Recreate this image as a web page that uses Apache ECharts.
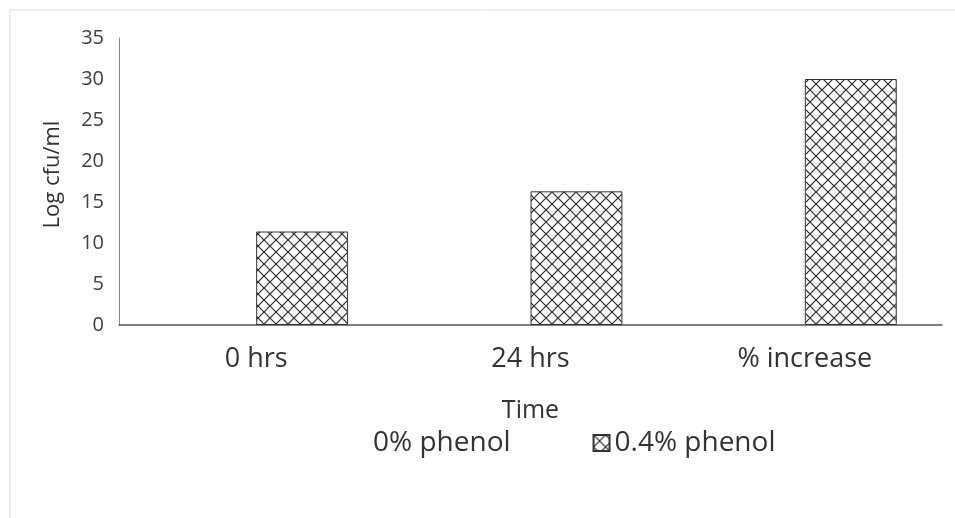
<!DOCTYPE html>
<html>
<head>
<meta charset="utf-8">
<script src="https://cdn.jsdelivr.net/npm/echarts@6/dist/echarts.min.js"></script>
<style>
  html, body { margin: 0; padding: 0; background: #fff; }
  #chart { width: 955px; height: 518px; }
</style>
</head>
<body>
<div id="chart"></div>
<script>
const categories = ['0 hrs', '24 hrs', '% increase'];
const seriesNames = ['0% phenol', '0.4% phenol'];
const phenol0 = [0, 0, 0];
const phenol04 = [11.4, 16.3, 30.0];
const yTicks = { min: 0, max: 35, interval: 5 };

// diamond crosshatch
function hatch() {
    const c = document.createElement('canvas');
    c.width = 12; c.height = 12;
    const ctx = c.getContext('2d');
    ctx.fillStyle = '#fff';
    ctx.fillRect(0, 0, 12, 12);
    ctx.strokeStyle = '#2a2a2a';
    ctx.lineWidth = 1.2;
    ctx.beginPath();
    ctx.moveTo(0, 0); ctx.lineTo(12, 12);
    ctx.moveTo(12, 0); ctx.lineTo(0, 12);
    ctx.stroke();
    return c;
}
const pattern = { image: hatch(), repeat: 'repeat' };
const font = 'Open Sans';

const chart = echarts.init(document.getElementById('chart'));
chart.setOption({
    animation: false,
    textStyle: { fontFamily: font },
    grid: { left: 119, right: 13, top: 38, bottom: 193 },
    legend: {
        left: 347,
        top: 424,
        itemWidth: 16,
        itemHeight: 16,
        itemGap: 82,
        textStyle: { fontSize: 28, color: '#333', fontFamily: font },
        data: [
            { name: seriesNames[0], icon: 'rect', itemStyle: { color: 'rgba(0,0,0,0)', borderWidth: 0 } },
            { name: seriesNames[1], icon: 'rect' }
        ]
    },
    xAxis: {
        type: 'category',
        data: categories,
        name: 'Time',
        nameLocation: 'middle',
        nameGap: 73,
        nameTextStyle: { fontSize: 25, color: '#333' },
        axisLine: { lineStyle: { color: '#555', width: 1.5 } },
        axisTick: { show: false },
        axisLabel: { fontSize: 27, color: '#333', margin: 21 }
    },
    yAxis: {
        type: 'value',
        min: yTicks.min,
        max: yTicks.max,
        interval: yTicks.interval,
        name: 'Log cfu/ml',
        nameLocation: 'middle',
        nameGap: 55,
        nameTextStyle: { fontSize: 22, color: '#333', padding: [0, 0, 0, 14] },
        axisLine: { show: true, lineStyle: { color: '#888' } },
        axisTick: { show: false },
        splitLine: { show: false },
        axisLabel: { fontSize: 20, color: '#404040', margin: 15 }
    },
    series: [
        {
            name: seriesNames[0],
            type: 'bar',
            data: phenol0,
            barGap: '0%',
            barCategoryGap: '33%',
            itemStyle: { color: 'rgba(0,0,0,0)' }
        },
        {
            name: seriesNames[1],
            type: 'bar',
            data: phenol04,
            itemStyle: { color: pattern, borderColor: '#333', borderWidth: 1 }
        }
    ],
    graphic: [
        {
            type: 'polyline',
            shape: { points: [[10, 518], [10, 10], [955, 10]] },
            style: { stroke: '#ddd', lineWidth: 1, fill: null },
            silent: true
        }
    ]
});
</script>
</body>
</html>
